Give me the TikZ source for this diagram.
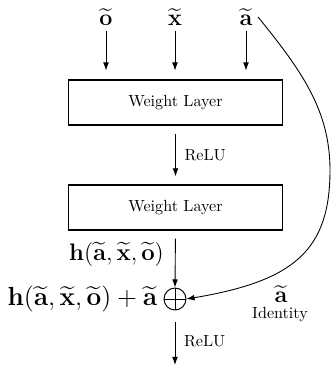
\RequirePackage{fix-cm}
\documentclass[tikz,border=0pt]{standalone}
\usepackage{amsmath,amssymb}
\usepackage{tikz}
\usetikzlibrary{arrows.meta,positioning,calc}

\begin{document}
\begin{tikzpicture}[
            x=0.62pt, y=0.62pt,
            >={Latex[length=5pt,width=3.6pt]},
            layer/.style={
                draw,
                rectangle,
                align=center,
                minimum width=132.7pt,
                minimum height=27.9pt,
                line width=0.7pt
            },
            arrow/.style={
                ->,
                line width=0.55pt
            },
            relulabel/.style={
                font=\normalsize,
                right=2pt,
                midway
            },
            vecin/.style={
                font=\Large
            }
            ]

            \useasboundingbox (0,0) rectangle (336,371);

            % inputs
            \node[vecin] (o) at (106,354) {$\widetilde{\mathbf{o}}$};
            \node[vecin] (x) at (175,354) {$\widetilde{\mathbf{x}}$};
            \node[vecin] (a) at (246,354) {$\widetilde{\mathbf{a}}$};

            % layers
            \node[layer] (layer1) at (175.5,268.5) {Weight Layer};
            \node[layer] (layer2) at (175.5,163.5) {Weight Layer};

            % sum
            \node[draw, circle, inner sep=0pt, minimum size=13.6pt,
                line width=0.6pt] (sum) at (175,72) {};
            \draw[line width=0.6pt] (sum.north) -- (sum.south)
            (sum.west) -- (sum.east);

            \node[font=\fontsize{16.2}{19}\selectfont, left=0.5pt of sum] (sumlabel)
            {$\mathbf{h}(\widetilde{\mathbf{a}},\widetilde{\mathbf{x}},\widetilde{\mathbf{o}})+\widetilde{\mathbf{a}}$};

            \node[vecin] (ida) at (281,77) {$\widetilde{\mathbf{a}}$};
            \node (idtext) at (280,56) {Identity};

            \coordinate (out) at (175,6);

            % connectors
            \draw[arrow, shorten >=5.5pt] (o.south) -- (o |- layer1.north);
            \draw[arrow, shorten >=5.5pt] (x.south) -- (x |- layer1.north);
            \draw[arrow, shorten >=5.5pt] (a.south) -- (a |- layer1.north);

            \draw[arrow, shorten <=5pt, shorten >=5pt]
            (layer1.south) --
            node[relulabel] {ReLU}
            (layer2.north);

            \draw[arrow, shorten <=5pt]
            (layer2.south) --
            node[font=\fontsize{14.8}{18}\selectfont, left=3.5pt, midway, yshift=3pt] (hlabel)
            {$\mathbf{h}(\widetilde{\mathbf{a}},\widetilde{\mathbf{x}},\widetilde{\mathbf{o}})$}
            (sum.north);

            \draw[arrow, shorten <=7.4pt]
            (sum.south) --
            node[relulabel, yshift=-2pt] {ReLU}
            (out);

            % identity shortcut
            \draw[arrow]
            (a.east) .. controls (301,301) and (330,261) .. (330,201)
            .. controls (330,121) and (294.5,90) .. (sum.east);

        \end{tikzpicture}
\end{document}
